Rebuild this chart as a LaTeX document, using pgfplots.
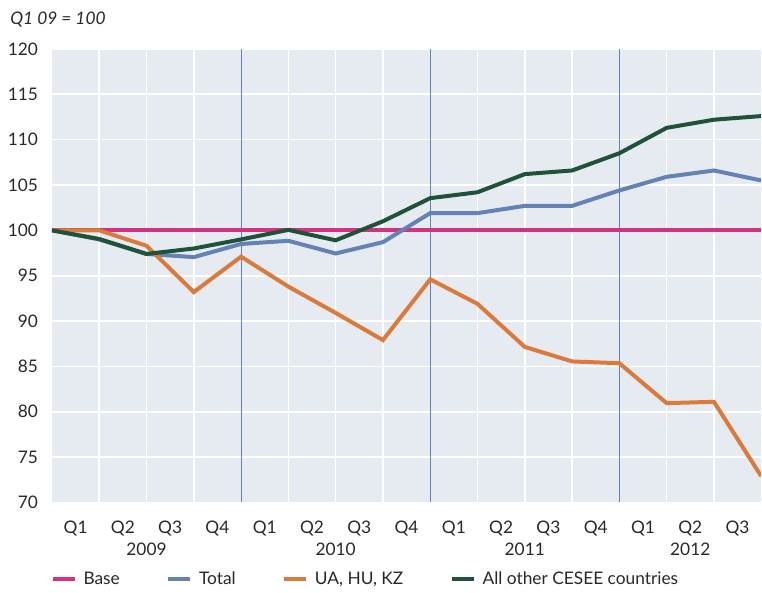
\documentclass[border=0pt]{standalone}
\usepackage{fontspec}
\setmainfont{Lato}
\usepackage{pgfplots}
\pgfplotsset{compat=1.18}
\definecolor{bgc}{RGB}{230,235,242}
\definecolor{basec}{RGB}{212,49,127}
\definecolor{totalc}{RGB}{101,130,180}
\definecolor{uac}{RGB}{218,123,60}
\definecolor{otherc}{RGB}{31,83,57}
\definecolor{txt}{RGB}{40,40,40}
\begin{document}
\begin{tikzpicture}
\fontsize{13pt}{15pt}\selectfont
\begin{axis}[
  name=ax,
  scale only axis,
  width=532.5pt, height=340.5pt,
  xmin=0, xmax=15, ymin=70, ymax=120,
  axis background/.style={fill=bgc},
  axis line style={draw=none},
  major tick length=0pt, minor tick length=0pt,
  xtick={0.5,1.5,...,14.5},
  xticklabels={Q1,Q2,Q3,Q4,Q1,Q2,Q3,Q4,Q1,Q2,Q3,Q4,Q1,Q2,Q3},
  minor xtick={1,2,3,5,6,7,9,10,11,13,14},
  extra x ticks={2,6,10,13.5},
  extra x tick labels={2009,2010,2011,2012},
  extra x tick style={grid=none, tick label style={yshift=-16.5pt}},
  xminorgrids=true, ymajorgrids=true, xmajorgrids=false,
  minor grid style={white, line width=1.2pt},
  major grid style={white, line width=1.2pt},
  ytick={70,75,...,120},
  yticklabel style={xshift=-6pt},
  xticklabel style={yshift=-9pt},
  tick label style={font=\fontsize{13pt}{15pt}\selectfont, text=txt},
  /pgf/number format/assume math mode=true,
  clip=true,
  legend columns=4,
  legend style={draw=none, fill=none, at={(axis description cs:0,0)}, anchor=west, yshift=-57.75pt, xshift=-4pt,
    font=\fontsize{13pt}{15pt}\selectfont, text=txt,
    /tikz/every even column/.append style={column sep=33pt}},
  legend image code/.code={\draw[#1, line width=3pt] (0pt,0pt) -- (16.5pt,0pt); \path (19.5pt,0pt);},
]
\draw[totalc, line width=0.8pt] (axis cs:4,70) -- (axis cs:4,120);
\draw[totalc, line width=0.8pt] (axis cs:8,70) -- (axis cs:8,120);
\draw[totalc, line width=0.8pt] (axis cs:12,70) -- (axis cs:12,120);
\addplot[basec, line width=3pt] coordinates {(0,100) (15,100)};
\addlegendentry{Base}
\addplot[totalc, line width=3pt] coordinates {
(0,100) (1,99.0) (2,97.4) (3,97.05) (4,98.5) (5,98.85) (6,97.45) (7,98.7) (8,101.9) (9,101.9) (10,102.7) (11,102.7) (12,104.4) (13,105.9) (14,106.6) (15,105.5)};
\addlegendentry{Total}
\addplot[uac, line width=3pt] coordinates {
(0,100) (1,100) (2,98.3) (3,93.2) (4,97.1) (5,93.8) (6,90.9) (7,87.9) (8,94.6) (9,91.9) (10,87.15) (11,85.55) (12,85.35) (13,80.95) (14,81.1) (15,72.9)};
\addlegendentry{UA, HU, KZ}
\addplot[otherc, line width=3pt] coordinates {
(0,100) (1,99.05) (2,97.4) (3,98.0) (4,99.0) (5,100.05) (6,98.9) (7,101.0) (8,103.55) (9,104.2) (10,106.2) (11,106.6) (12,108.5) (13,111.3) (14,112.2) (15,112.6)};
\addlegendentry{All other CESEE countries}
\end{axis}
\node[anchor=west, text=txt, font=\fontsize{13pt}{15pt}\selectfont\itshape, inner sep=0pt] at ([xshift=-31.5pt, yshift=21.75pt]ax.north west) {Q1 09 = 100};
\path ([xshift=-39pt, yshift=36.75pt]ax.north west) -- ([yshift=-66pt]ax.south east);
\end{tikzpicture}
\end{document}
